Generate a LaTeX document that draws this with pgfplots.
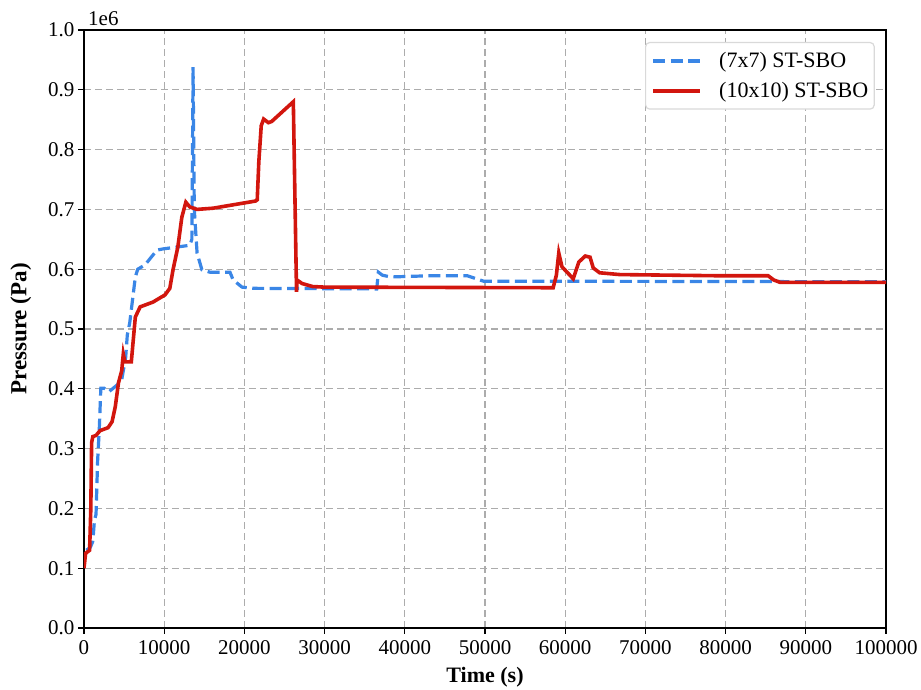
\documentclass[border=0pt]{standalone}
\usepackage{fontspec}
\setmainfont{Liberation Serif}
\usepackage{pgfplots}
\pgfplotsset{compat=1.18}
\definecolor{myblue}{RGB}{58,134,230}
\definecolor{myred}{RGB}{210,22,14}
\begin{document}
\begin{tikzpicture}
\begin{axis}[
  scale only axis, width=802pt, height=598pt,
  xmin=0, xmax=100000, ymin=0, ymax=1,
  xtick={0,10000,20000,30000,40000,50000,60000,70000,80000,90000,100000},
  ytick={0,0.1,0.2,0.3,0.4,0.5,0.6,0.7,0.8,0.9,1.0},
  scaled x ticks=false, scaled y ticks=false,
  x tick label style={yshift=-3pt, /pgf/number format/.cd, fixed, 1000 sep={}},
  y tick label style={/pgf/number format/.cd, fixed, precision=1, fixed zerofill},
  /pgf/number format/assume math mode=true,
  tick label style={font=\fontsize{21}{25}\selectfont, black},
  grid=major, grid style={dash pattern=on 7pt off 4pt, gray!65, line width=1.1pt},
  axis line style={line width=1.3pt, black},
  tick style={black, line width=1.3pt}, major tick length=6pt, tick align=outside,
  xtick pos=bottom, ytick pos=left,
  xlabel={\textbf{Time (s)}}, ylabel={\textbf{Pressure (Pa)}},
  xlabel style={font=\fontsize{22}{26}\selectfont, at={(rel axis cs:0.5,0)}, anchor=base, yshift=-55pt},
  ylabel style={font=\fontsize{23}{27}\selectfont},
  ylabel shift=10pt,
  legend style={at={(rel axis cs:0.986,0.98)}, anchor=north east, draw=gray!30, rounded corners=4pt, line width=1.2pt, font=\fontsize{22}{26}\selectfont, row sep=9pt, inner xsep=4pt, inner ysep=8pt},
  legend cell align=left,
  legend image code/.code={\draw[#1] (0pt,0pt) -- (47pt,0pt); \path (-2pt,0pt) (62pt,0pt);},
]
\addplot[myblue, line width=3.2pt, dash pattern=on 12pt off 5.5pt] coordinates {
(300,0.13) (800,0.135) (1100,0.145) (1300,0.18) (1500,0.19) (1700,0.28) (1900,0.331) (2100,0.401) (2500,0.401) (3100,0.395) (4100,0.406) (4700,0.415) (5200,0.453) (5400,0.49) (5700,0.51) (6400,0.587) (6700,0.600) (7600,0.607) (9100,0.632) (9900,0.634) (13200,0.640) (13450,0.65) (13600,0.938) (13750,0.70) (14100,0.627) (14700,0.599) (15700,0.595) (18200,0.595) (18600,0.582) (19700,0.570) (21100,0.568) (36500,0.567) (36700,0.595) (37200,0.590) (38200,0.587) (43100,0.589) (47800,0.589) (49800,0.580) (100000,0.579)
};
\addlegendentry{(7x7) ST-SBO}
\addplot[myred, line width=3.6pt] coordinates {
(0,0.10) (200,0.125) (700,0.13) (850,0.20) (950,0.31) (1100,0.32) (1500,0.322) (2000,0.33) (3000,0.335) (3500,0.345) (3900,0.37) (4300,0.41) (4700,0.43) (4900,0.458) (5100,0.445) (5900,0.445) (6200,0.49) (6400,0.52) (7000,0.537) (8600,0.545) (10100,0.557) (10700,0.568) (11100,0.599) (11700,0.637) (12200,0.687) (12700,0.712) (13200,0.704) (14100,0.700) (16100,0.702) (21400,0.714) (21600,0.716) (21800,0.78) (22100,0.84) (22400,0.851) (23000,0.845) (23400,0.847) (26100,0.880) (26500,0.562) (26550,0.582) (27200,0.576) (28500,0.571) (30000,0.570) (58500,0.569) (58900,0.59) (59200,0.627) (59600,0.604) (61000,0.584) (61400,0.600) (61700,0.612) (62500,0.622) (63100,0.620) (63500,0.602) (64300,0.594) (66800,0.591) (79300,0.589) (85300,0.589) (86000,0.582) (86800,0.578) (100000,0.578)
};
\addlegendentry{(10x10) ST-SBO}
\coordinate (ll) at (rel axis cs:0,0);
\coordinate (ur) at (rel axis cs:1,1);
\end{axis}
\node[anchor=south west, inner sep=4pt, font=\fontsize{21}{25}\selectfont] at (ll|-ur) {1e6};
\pgfresetboundingbox
\path[use as bounding box] ([shift={(-84pt,-62pt)}]ll) rectangle ([shift={(35pt,30pt)}]ur);
\end{tikzpicture}
\end{document}
